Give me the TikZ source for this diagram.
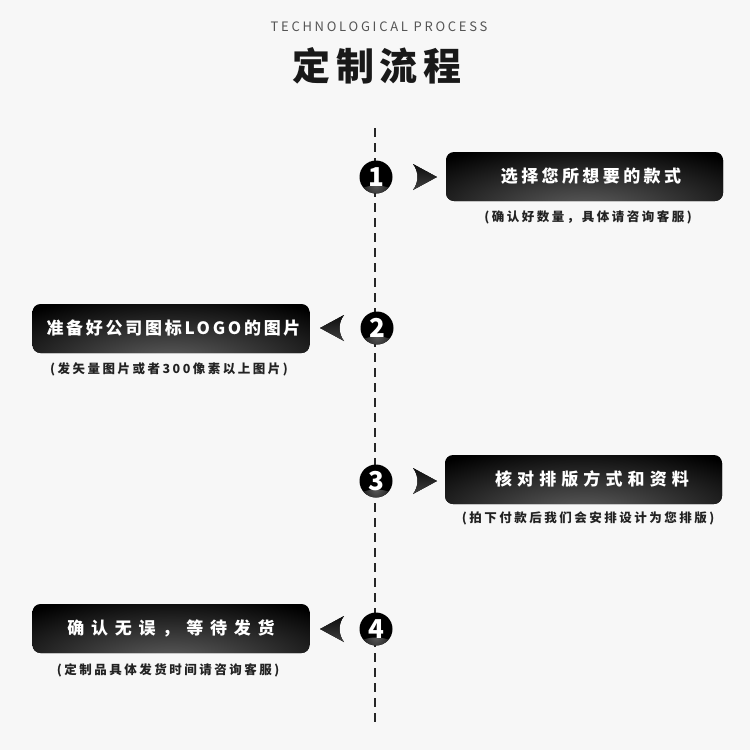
\documentclass[tikz,border=0pt]{standalone}
\usepackage{fontspec}
\setmainfont{Noto Sans CJK SC}
\usetikzlibrary{shapes.misc}
\definecolor{bgc}{HTML}{F7F7F7}
\definecolor{subgray}{HTML}{555555}
\definecolor{notec}{HTML}{222222}
\definecolor{glow}{HTML}{606060}
\tikzset{
  stepbox/.style={draw=none, fill=black, rounded corners=8pt, minimum width=277pt, minimum height=49pt, inner sep=0pt,
    path picture={\shade[inner color=glow, outer color=black] ([yshift=-10pt]path picture bounding box.south) ellipse (210pt and 70pt);}},
  boxtext/.style={text=white, inner sep=0pt},
  stepnum/.style={circle, fill=black, minimum size=33pt, inner sep=0pt, text=white,
    font=\fontsize{26}{26}\selectfont\bfseries,
    path picture={\shade[inner color=black!65, outer color=black] ([yshift=-4pt]path picture bounding box.south) ellipse (22pt and 12pt);}},
  note/.style={text=notec, inner sep=0pt, font=\fontsize{12.5}{12.5}\selectfont\bfseries\addfontfeature{LetterSpace=20}},
  dashline/.style={line width=2pt, dash pattern=on 9pt off 6pt, color=black!85},
  chev/.pic={\fill[top color=black!95, bottom color=black!75] (-12,-13) -- (12,0) -- (-12,13) .. controls (-6,5) and (-6,-5) .. (-12,-13) -- cycle;}
}
\begin{document}
\begin{tikzpicture}[x=1pt,y=-1pt]
\fill[bgc] (0,0) rectangle (750,750);
\useasboundingbox (0,0) rectangle (750,750);

\node[text=subgray, inner sep=0pt, font=\fontsize{13}{13}\selectfont\addfontfeature{LetterSpace=21}] (sub) at (379,27) {TECHNOLOGICAL PROCESS};
\node[text=black!90, inner sep=0pt, font=\fontsize{38}{38}\selectfont\bfseries\addfontfeature{LetterSpace=15}] (title) at (377,66) {定制流程};

\coordinate (top) at (375,128);
\coordinate (bot) at (375,722);
\draw[dashline] (top) -- (bot);

% step 1
\node[stepnum] (c1) at (376,177) {1};
\pic at (425,177) {chev};
\node[stepbox] (b1) at (584.5,176.5) {};
\node[boxtext, font=\fontsize{17}{17}\selectfont\bfseries\addfontfeature{LetterSpace=20}] (t1) at (591,176.5) {选择您所想要的款式};
\node[note] (n1) at (588,217) {(确认好数量，具体请咨询客服)};

% step 2
\node[stepnum] (c2) at (377,328) {2};
\pic[xscale=-1] at (332,328) {chev};
\node[stepbox] (b2) at (171,328.5) {};
\node[boxtext, font=\fontsize{17}{17}\selectfont\bfseries\addfontfeature{LetterSpace=16}] (t2) at (173.5,328.5) {准备好公司图标LOGO的图片};
\node[note] (n2) at (169,369) {(发矢量图片或者300像素以上图片)};

% step 3
\node[stepnum] (c3) at (376,481) {3};
\pic at (425,481) {chev};
\node[stepbox] (b3) at (583.5,479.5) {};
\node[boxtext, font=\fontsize{17}{17}\selectfont\bfseries\addfontfeature{LetterSpace=30}] (t3) at (592,479.5) {核对排版方式和资料};
\node[note] (n3) at (588,518) {(拍下付款后我们会安排设计为您排版)};

% step 4
\node[stepnum] (c4) at (376,629) {4};
\pic[xscale=-1] at (332,629) {chev};
\node[stepbox] (b4) at (171,628.5) {};
\node[boxtext, font=\fontsize{17}{17}\selectfont\bfseries\addfontfeature{LetterSpace=40}] (t4) at (171,628.5) {确认无误，等待发货};
\node[note] (n4) at (168,670) {(定制品具体发货时间请咨询客服)};
\end{tikzpicture}
\end{document}
